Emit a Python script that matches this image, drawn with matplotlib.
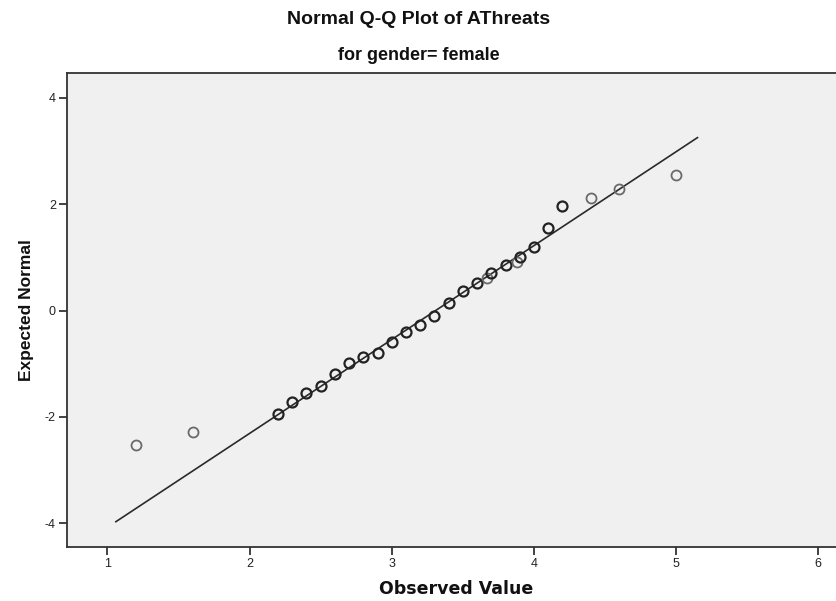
import matplotlib

matplotlib.use("Agg")
import matplotlib.pyplot as plt
from matplotlib import font_manager

plt.rcParams["axes.unicode_minus"] = False

observed = [1.2, 1.6, 2.2, 2.3, 2.4, 2.5, 2.6, 2.7, 2.8, 2.9, 3.0, 3.1, 3.2, 3.3,
            3.4, 3.5, 3.6, 3.67, 3.7, 3.8, 3.88, 3.9, 4.0, 4.1, 4.2, 4.4, 4.6, 5.0]
expected = [-2.53, -2.28, -1.94, -1.72, -1.55, -1.41, -1.20, -0.99, -0.88, -0.79,
            -0.59, -0.40, -0.27, -0.10, 0.14, 0.36, 0.52, 0.61, 0.71, 0.86, 0.92,
            1.00, 1.19, 1.56, 1.96, 2.12, 2.28, 2.54]
# lighter (single-case) points
light = [True, True, False, False, False, False, False, False, False, False,
         False, False, False, False, False, False, False, True, False, False, True,
         False, False, False, False, True, True, True]

line_x = [1.06, 5.15]
line_y = [-3.97, 3.25]

x_ticks = [1, 2, 3, 4, 5, 6]
y_ticks = [-4, -2, 0, 2, 4]

title = "Normal Q-Q Plot of AThreats"
subtitle = "for gender= female"

names = {f.name for f in font_manager.fontManager.ttflist}
narrow = "Liberation Sans Narrow" if "Liberation Sans Narrow" in names else "Liberation Sans"

fig = plt.figure(figsize=(8.37, 6.01), dpi=100)
ax = fig.add_axes([0.080, 0.0899, 0.93, 0.7886])
ax.set_facecolor("#f0f0f0")

ax.plot(line_x, line_y, color="#2a2a2a", lw=1.2, zorder=2)
for xv, yv, lt in zip(observed, expected, light):
    ax.plot(xv, yv, "o", ms=7.2, mfc="none",
            mec="#6a6a6a" if lt else "#222222", mew=1.3 if lt else 1.6, zorder=3)

ax.set_xlim(0.716, 6.19)
ax.set_ylim(-4.445, 4.464)
ax.set_xticks(x_ticks)
ax.set_yticks(y_ticks)
ax.tick_params(direction="out", length=6, width=1.2, color="#222222",
               labelsize=9, labelcolor="#222222", pad=2)
for lab in ax.get_xticklabels() + ax.get_yticklabels():
    lab.set_family("Liberation Sans")
for s in ["left", "bottom", "top"]:
    ax.spines[s].set_color("#333333")
    ax.spines[s].set_linewidth(1.3)
ax.spines["right"].set_visible(False)

ax.set_xlabel("Observed Value", family="DejaVu Sans", weight="bold", fontsize=12.5,
              color="#111111", labelpad=7)
ax.set_ylabel("Expected Normal", family="Liberation Sans", weight="bold", fontsize=12.5,
              color="#111111", labelpad=8)

fig.text(0.5, 1 - 19 / 601, title, ha="center", va="center", family=narrow,
         weight="bold", fontsize=14, color="#111111")
fig.text(0.5, 1 - 56 / 601, subtitle, ha="center", va="center", family=narrow,
         weight="bold", fontsize=13, color="#111111")

fig.savefig("out.png", dpi=100, facecolor="white")
